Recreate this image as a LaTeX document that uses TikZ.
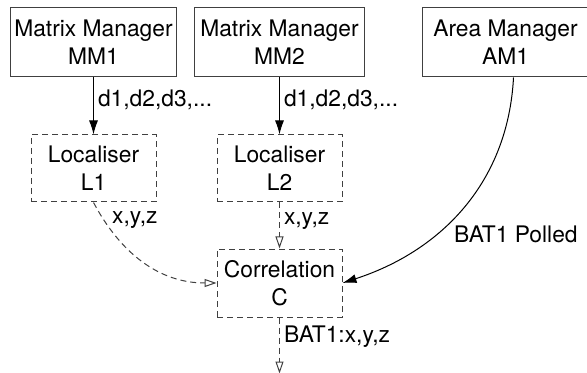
\documentclass[tikz,border=0pt]{standalone}
\usepackage{fontspec}
\setmainfont{TeX Gyre Heros}
\usetikzlibrary{arrows.meta, positioning}

\begin{document}
\begin{tikzpicture}[
  every node/.style={font=\fontsize{11.4}{14}\selectfont},
  mgrbox/.style={rectangle, draw=black!75, fill=white, align=center, minimum height=34.5pt, minimum width=83pt, inner sep=1pt, line width=0.5pt},
  procbox/.style={rectangle, draw=black!75, dash pattern=on 3pt off 2pt, align=center, minimum height=33.5pt, minimum width=62.5pt, inner sep=1pt, line width=0.5pt},
  arr/.style={-{Latex[length=7pt, width=4.5pt]}, draw=black, line width=0.5pt},
  darr/.style={-{Triangle[open, length=6pt, width=4pt]}, draw=black!75, dash pattern=on 3pt off 2pt, line width=0.5pt},
  lbl/.style={right, inner sep=2pt},
]

\useasboundingbox (0,0) rectangle (293.5pt,-186.5pt);

%% Row 1: managers
\node[mgrbox] (mm1) at (46.75pt,-21.25pt) {Matrix Manager\\MM1};
\node[mgrbox, right=8.5pt of mm1, minimum width=85pt] (mm2) {Matrix Manager\\MM2};
\node[mgrbox, right=28.5pt of mm2] (am1) {Area Manager\\AM1};

%% Row 2: localisers
\node[procbox, below=28.5pt of mm1] (loc1) {Localiser\\L1};
\node[procbox, below=28.5pt of mm2] (loc2) {Localiser\\L2};

%% Row 3: correlation
\node[procbox, below=23pt of loc2, minimum height=34pt] (corr) {Correlation\\C};
\coordinate[below=28pt of corr] (out);

%% Arrows
\draw[arr] (mm1) -- node[lbl, pos=0.4] {d1,d2,d3,...} (loc1);
\draw[arr] (mm2) -- node[lbl, pos=0.4] {d1,d2,d3,...} (loc2);
\draw[darr] (loc1.south) to[out=-62, in=180] node[lbl, pos=0.12, xshift=2pt] {x,y,z} (corr.west);
\draw[darr] (loc2) -- node[lbl, pos=0.4] {x,y,z} (corr);
\draw[arr] ([xshift=4pt]am1.south) to[out=-93, in=18] node[lbl, pos=0.645, xshift=7.5pt] {BAT1 Polled} (corr.east);
\draw[darr] (corr) -- node[lbl, pos=0.35] {BAT1:x,y,z} (out);

\end{tikzpicture}
\end{document}
